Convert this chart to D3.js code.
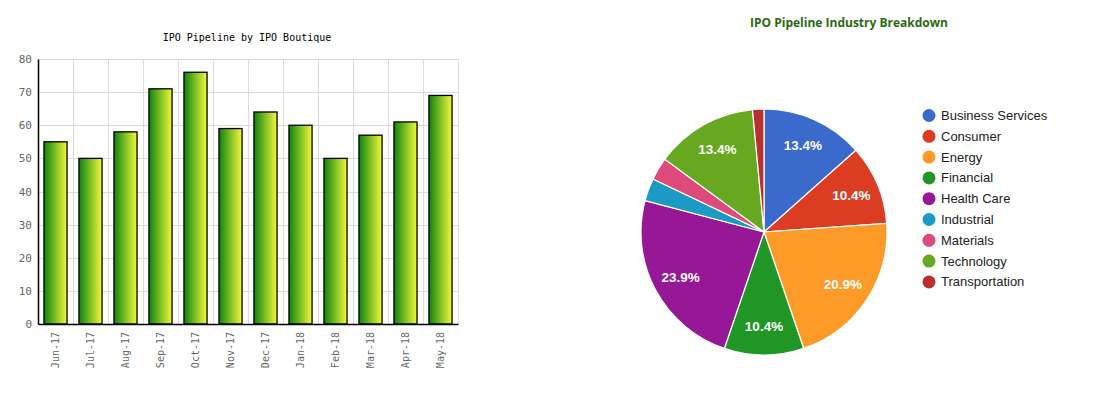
<!DOCTYPE html>
<html>
<head>
<meta charset="utf-8">
<title>IPO Pipeline</title>
<script src="https://d3js.org/d3.v7.min.js"></script>
<style>
  body { margin: 0; background: #fff; }
</style>
</head>
<body>
<script>
// bar chart data
var months = ["Jun-17","Jul-17","Aug-17","Sep-17","Oct-17","Nov-17","Dec-17","Jan-18","Feb-18","Mar-18","Apr-18","May-18"];
var ipoCounts = [55, 50, 58, 71, 76, 59, 64, 60, 50, 57, 61, 69];
var yTicks = [0, 10, 20, 30, 40, 50, 60, 70, 80];

// pie chart data
var industries = ["Business Services","Consumer","Energy","Financial","Health Care","Industrial","Materials","Technology","Transportation"];
var industryCounts = [9, 7, 14, 7, 16, 2, 2, 9, 1];
var industryColors = ["#3a6bcc","#dc3c21","#fd9a28","#1f9626","#961896","#1b9ac6","#dd4a7b","#67a820","#b83030"];

var svg = d3.select("body").append("svg")
  .attr("width", 1120)
  .attr("height", 399);

// ---- bar chart ----
var plotLeft = 38, plotRight = 458, plotTop = 59, plotBottom = 324;

var x = d3.scaleBand().domain(months).range([plotLeft, plotRight]).paddingInner(0.34).paddingOuter(0.17);
var y = d3.scaleLinear().domain([0, 80]).range([plotBottom, plotTop]);

var grad = svg.append("defs").append("linearGradient")
  .attr("id", "barGrad")
  .attr("x1", "0%").attr("x2", "100%").attr("y1", "0%").attr("y2", "0%");
grad.append("stop").attr("offset", "0%").attr("stop-color", "#0d8210");
grad.append("stop").attr("offset", "55%").attr("stop-color", "#8cc626");
grad.append("stop").attr("offset", "100%").attr("stop-color", "#f4f83c");

svg.append("text")
  .attr("x", 247).attr("y", 41)
  .attr("text-anchor", "middle")
  .style("font-family", "DejaVu Sans Mono, monospace")
  .style("font-size", "10px")
  .attr("fill", "#000")
  .text("IPO Pipeline by IPO Boutique");

// horizontal grid
svg.append("g").selectAll("line").data(yTicks).enter().append("line")
  .attr("x1", plotLeft).attr("x2", plotRight)
  .attr("y1", function(d) { return Math.round(y(d)) + 0.5; })
  .attr("y2", function(d) { return Math.round(y(d)) + 0.5; })
  .attr("stroke", "#dcdcdc");

// vertical grid at band boundaries
var step = x.step();
var bounds = d3.range(1, months.length + 1).map(function(i) { return plotLeft + i * step; });
svg.append("g").selectAll("line").data(bounds).enter().append("line")
  .attr("x1", function(d) { return Math.round(d) + 0.5; })
  .attr("x2", function(d) { return Math.round(d) + 0.5; })
  .attr("y1", plotTop).attr("y2", plotBottom)
  .attr("stroke", "#dcdcdc");

svg.append("g").selectAll("rect").data(ipoCounts).enter().append("rect")
  .attr("x", function(d, i) { return x(months[i]); })
  .attr("y", function(d) { return y(d); })
  .attr("width", x.bandwidth())
  .attr("height", function(d) { return y(0) - y(d); })
  .attr("fill", "url(#barGrad)")
  .attr("stroke", "#000")
  .attr("stroke-width", 1.3);

// y axis
var yAxis = svg.append("g")
  .attr("transform", "translate(" + plotLeft + ",0)")
  .call(d3.axisLeft(y).tickValues(yTicks).tickSize(0).tickPadding(6));
yAxis.select(".domain").attr("stroke", "#000").attr("stroke-width", 1.5);
yAxis.selectAll("text")
  .attr("fill", "#666")
  .style("font-family", "DejaVu Sans Mono, monospace")
  .style("font-size", "11px");

// x axis
var xAxis = svg.append("g")
  .attr("transform", "translate(0," + plotBottom + ")")
  .call(d3.axisBottom(x).tickSize(0).tickSizeOuter(0));
xAxis.select(".domain").attr("stroke", "#000").attr("stroke-width", 1.5);
xAxis.selectAll("text")
  .attr("fill", "#666")
  .style("font-family", "DejaVu Sans Mono, monospace")
  .style("font-size", "10px")
  .attr("text-anchor", "end")
  .attr("transform", "rotate(-90)")
  .attr("x", -8)
  .attr("y", 0)
  .attr("dy", "0.35em");

// ---- pie chart ----
var cx = 764, cy = 232, radius = 123;

svg.append("text")
  .attr("x", 849).attr("y", 27)
  .attr("text-anchor", "middle")
  .style("font-family", "Open Sans, sans-serif")
  .style("font-size", "12px")
  .style("font-weight", "bold")
  .attr("fill", "#2b6a12")
  .text("IPO Pipeline Industry Breakdown");

var pie = d3.pie().sort(null);
var arc = d3.arc().innerRadius(0).outerRadius(radius);
var labelArc = d3.arc().innerRadius(radius * 0.77).outerRadius(radius * 0.77);
var total = d3.sum(industryCounts);

var pg = svg.append("g").attr("transform", "translate(" + cx + "," + cy + ")");
var arcs = pie(industryCounts);

pg.selectAll("path").data(arcs).enter().append("path")
  .attr("d", arc)
  .attr("fill", function(d, i) { return industryColors[i]; })
  .attr("stroke", "#fff")
  .attr("stroke-width", 1.2);

pg.selectAll("text").data(arcs.filter(function(d) { return d.value / total > 0.05; }))
  .enter().append("text")
  .attr("transform", function(d) { return "translate(" + labelArc.centroid(d) + ")"; })
  .attr("text-anchor", "middle")
  .attr("dy", "0.35em")
  .style("font-family", "Liberation Sans, Arial, sans-serif")
  .style("font-size", "13.5px")
  .style("font-weight", "bold")
  .attr("fill", "#fff")
  .text(function(d) { return (d.value / total * 100).toFixed(1) + "%"; });

// legend
var legend = svg.append("g").selectAll("g").data(industries).enter().append("g")
  .attr("transform", function(d, i) { return "translate(929," + (115.5 + i * 20.8) + ")"; });
legend.append("circle")
  .attr("r", 6.5)
  .attr("fill", function(d, i) { return industryColors[i]; });
legend.append("text")
  .attr("x", 12)
  .attr("dy", "0.35em")
  .style("font-family", "Liberation Sans, Arial, sans-serif")
  .style("font-size", "13px")
  .attr("fill", "#222")
  .text(function(d) { return d; });
</script>
</body>
</html>
